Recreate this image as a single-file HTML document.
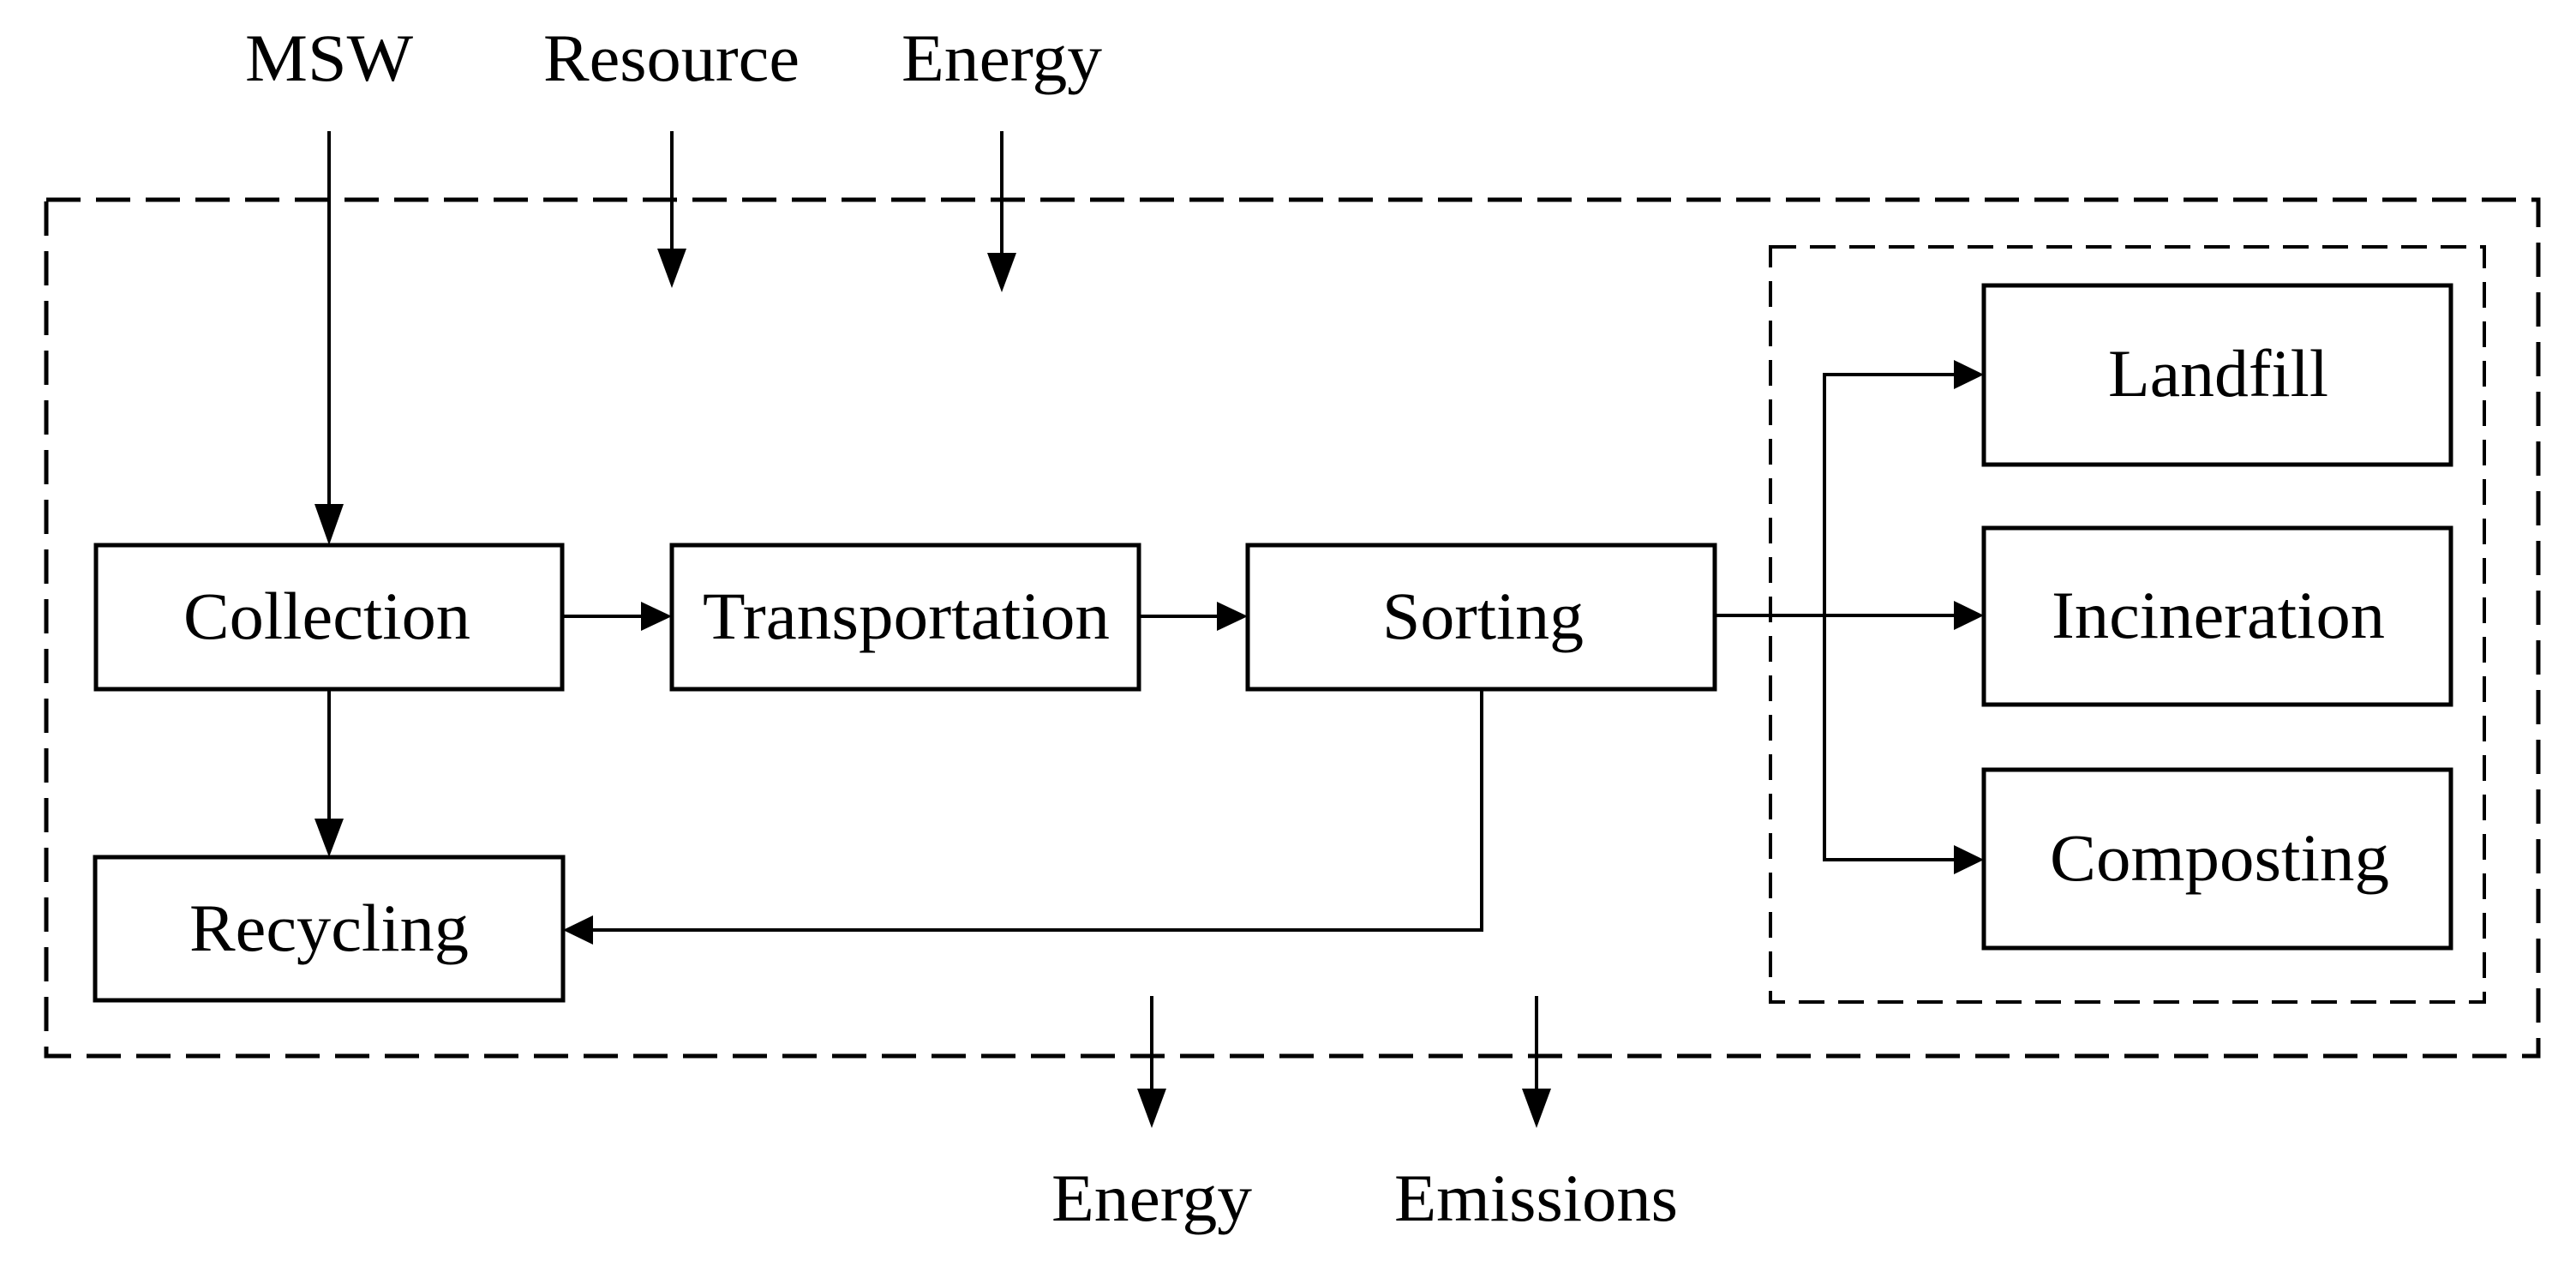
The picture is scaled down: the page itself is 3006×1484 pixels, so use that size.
<!DOCTYPE html>
<html><head><meta charset="utf-8"><style>html,body{margin:0;padding:0;background:#fff}svg{display:block}</style></head><body>
<svg width="3006" height="1484" viewBox="0 0 3006 1484" xmlns="http://www.w3.org/2000/svg" font-family="Liberation Serif, serif" font-size="78" fill="#000">
<defs>
<marker id="av" markerUnits="userSpaceOnUse" markerWidth="34" markerHeight="48" refX="17" refY="48" orient="auto-start-reverse" viewBox="0 0 34 48"><path d="M0 0 L34 0 L17 48 Z" fill="#000"/></marker>
</defs>
<g fill="none" stroke="#000">
<rect x="54" y="233" width="2908" height="999" stroke-width="5" stroke-dasharray="40 18"/>
<rect x="2066" y="288" width="833" height="881" stroke-width="4" stroke-dasharray="30 16"/>
<g stroke-width="5">
<rect x="112" y="636" width="544" height="168"/>
<rect x="784" y="636" width="545" height="168"/>
<rect x="1456" y="636" width="545" height="168"/>
<rect x="111" y="1000" width="546" height="167"/>
<rect x="2315" y="333" width="545" height="209"/>
<rect x="2315" y="616" width="545" height="206"/>
<rect x="2315" y="898" width="545" height="208"/>
</g>
<g stroke-width="4">
<line x1="384" y1="153" x2="384" y2="588"/>
<line x1="784" y1="153" x2="784" y2="290"/>
<line x1="1169" y1="153" x2="1169" y2="295"/>
<line x1="384" y1="804" x2="384" y2="955"/>
<line x1="656" y1="719" x2="750" y2="719"/>
<line x1="1329" y1="719" x2="1422" y2="719"/>
<line x1="2001" y1="718" x2="2282" y2="718"/>
<polyline points="2282,437 2129,437 2129,1003 2282,1003"/>
<polyline points="1729,804 1729,1085 690,1085"/>
<line x1="1344" y1="1162" x2="1344" y2="1270"/>
<line x1="1793" y1="1162" x2="1793" y2="1270"/>
</g>
</g>
<g fill="#000">
<path d="M367 588 L401 588 L384 636 Z"/>
<path d="M767 290 L801 290 L784 336 Z"/>
<path d="M1152 295 L1186 295 L1169 341 Z"/>
<path d="M367 955 L401 955 L384 1000 Z"/>
<path d="M1327 1270 L1361 1270 L1344 1316 Z"/>
<path d="M1776 1270 L1810 1270 L1793 1316 Z"/>
<path d="M748 702 L784 719 L748 736 Z"/>
<path d="M1420 702 L1456 719 L1420 736 Z"/>
<path d="M2280 701 L2315 718 L2280 735 Z"/>
<path d="M2280 420 L2315 437 L2280 454 Z"/>
<path d="M2280 986 L2315 1003 L2280 1020 Z"/>
<path d="M692 1068 L657 1085 L692 1102 Z"/>
</g>
<g lengthAdjust="spacingAndGlyphs">
<text x="286" y="94" textLength="196" lengthAdjust="spacingAndGlyphs">MSW</text>
<text x="634" y="94" textLength="299" lengthAdjust="spacingAndGlyphs">Resource</text>
<text x="1052" y="94" textLength="234" lengthAdjust="spacingAndGlyphs">Energy</text>
<text x="214" y="745" textLength="335" lengthAdjust="spacingAndGlyphs">Collection</text>
<text x="820" y="745" textLength="475" lengthAdjust="spacingAndGlyphs">Transportation</text>
<text x="1613" y="745" textLength="235" lengthAdjust="spacingAndGlyphs">Sorting</text>
<text x="221" y="1109" textLength="326" lengthAdjust="spacingAndGlyphs">Recycling</text>
<text x="2460" y="462" textLength="257" lengthAdjust="spacingAndGlyphs">Landfill</text>
<text x="2394" y="744" textLength="389" lengthAdjust="spacingAndGlyphs">Incineration</text>
<text x="2392" y="1027" textLength="396" lengthAdjust="spacingAndGlyphs">Composting</text>
<text x="1227" y="1424" textLength="234" lengthAdjust="spacingAndGlyphs">Energy</text>
<text x="1627" y="1424" textLength="331" lengthAdjust="spacingAndGlyphs">Emissions</text>
</g>
</svg>
</body></html>
